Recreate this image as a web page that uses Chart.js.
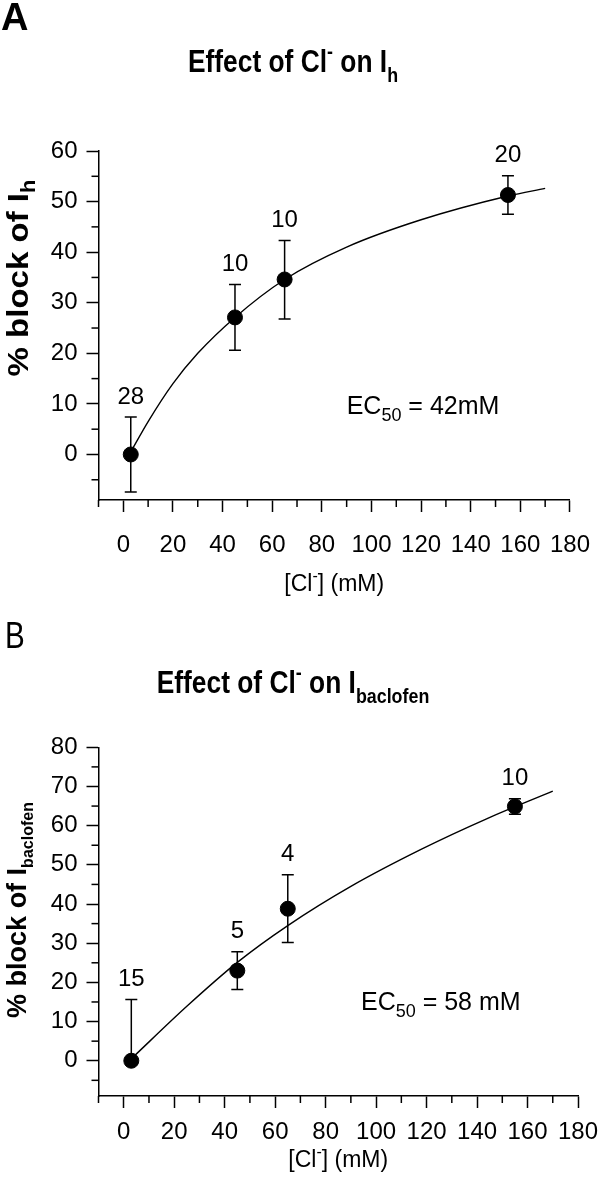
<!DOCTYPE html>
<html lang="en">
<head>
<meta charset="UTF-8">
<title>Effect of Cl- on Ih and Ibaclofen</title>
<style>
  body { margin: 0; background: #fff; }
  canvas { display: block; }
</style>
</head>
<body>
<canvas id="chartA" width="609" height="600"></canvas>
<canvas id="chartB" width="609" height="599"></canvas>
<script src="https://cdn.jsdelivr.net/npm/chart.js"></script>
<script>
  // shared x axis
  const xTicks = [0, 20, 40, 60, 80, 100, 120, 140, 160, 180];
  const xMinor = [-10, 10, 30, 50, 70, 90, 110, 130, 150, 170];

  // panel A: block of Ih
  const concA = [3, 45, 65, 155];
  const blockA = [0, 27.1, 34.6, 51.3];
  const errUpA = [7.4, 6.5, 7.7, 3.8];
  const errLoA = [7.4, 6.5, 7.8, 3.8];
  const nA = [28, 10, 10, 20];
  const fitXA = [3, 10, 20, 30, 45, 65, 90, 120, 155, 170];
  const fitYA = [0.5, 6.5, 14.0, 20.0, 27.1, 34.6, 41.0, 46.4, 51.1, 52.6];
  const yTicksA = [0, 10, 20, 30, 40, 50, 60];
  const yMinorA = [-5, 5, 15, 25, 35, 45, 55];

  // panel B: block of Ibaclofen
  const concB = [3, 45, 65, 155];
  const blockB = [0, 23.0, 38.8, 64.9];
  const errUpB = [15.6, 4.8, 8.7, 2.0];
  const errLoB = [0, 4.8, 8.6, 2.0];
  const nB = [15, 5, 4, 10];
  const fitXB = [3, 25, 45, 65, 90, 118, 144, 170];
  const fitYB = [0.5, 13.9, 25.1, 34.5, 44.5, 54.0, 61.8, 68.8];
  const yTicksB = [0, 10, 20, 30, 40, 50, 60, 70, 80];
  const yMinorB = [-5, 5, 15, 25, 35, 45, 55, 65, 75];

  const FONT = '"Liberation Sans", Arial, Helvetica, sans-serif';

  // draws text made of plain / sub / sup pieces
  function richText(ctx, parts, x, y, o) {
    ctx.save();
    ctx.translate(x, y);
    if (o.rotate) ctx.rotate(o.rotate);
    ctx.scale(o.scaleX || 1, 1);
    const fontOf = p => (o.bold ? 'bold ' : '') + ((p.sub || p.sup) ? o.subSize : o.size) + 'px ' + FONT;
    let total = 0;
    parts.forEach(p => { ctx.font = fontOf(p); total += ctx.measureText(p.t).width; });
    let cx = o.align === 'center' ? -total / 2 : 0;
    ctx.fillStyle = '#000';
    ctx.textAlign = 'left';
    ctx.textBaseline = 'alphabetic';
    parts.forEach(p => {
      ctx.font = fontOf(p);
      const dy = p.sub ? o.subShift : (p.sup ? -o.supShift : 0);
      ctx.fillText(p.t, cx, dy);
      cx += ctx.measureText(p.t).width;
    });
    ctx.restore();
  }

  const decor = {
    id: 'decor',
    beforeDatasetsDraw(chart, args, opts) {
      const ctx = chart.ctx, xs = chart.scales.x, ys = chart.scales.y;
      const area = chart.chartArea;
      ctx.save();
      ctx.strokeStyle = '#000';
      ctx.lineWidth = 1.5;
      // minor ticks
      opts.xMinor.forEach(v => {
        const px = xs.getPixelForValue(v);
        ctx.beginPath(); ctx.moveTo(px, area.bottom); ctx.lineTo(px, area.bottom + 7); ctx.stroke();
      });
      opts.yMinor.forEach(v => {
        const py = ys.getPixelForValue(v);
        ctx.beginPath(); ctx.moveTo(area.left, py); ctx.lineTo(area.left - 7, py); ctx.stroke();
      });
      // error bars
      opts.xs.forEach((xv, i) => {
        const px = xs.getPixelForValue(xv);
        const top = ys.getPixelForValue(opts.ys[i] + opts.up[i]);
        const bot = ys.getPixelForValue(opts.ys[i] - opts.lo[i]);
        ctx.beginPath();
        ctx.moveTo(px, top); ctx.lineTo(px, bot);
        ctx.moveTo(px - 6, top); ctx.lineTo(px + 6, top);
        if (opts.lo[i] > 0) { ctx.moveTo(px - 6, bot); ctx.lineTo(px + 6, bot); }
        ctx.stroke();
        // n above bar
        ctx.fillStyle = '#000';
        ctx.font = '24px ' + FONT;
        ctx.textAlign = 'center';
        ctx.textBaseline = 'middle';
        ctx.fillText(String(opts.n[i]), px, top - 20);
      });
      ctx.restore();
    },
    afterDraw(chart, args, opts) {
      const ctx = chart.ctx, xs = chart.scales.x, ys = chart.scales.y;
      const area = chart.chartArea;
      // panel letter
      richText(ctx, [{ t: opts.letter.t }], opts.letter.x, opts.letter.y,
        { size: opts.letter.size, bold: opts.letter.bold, scaleX: opts.letter.scaleX });
      // title
      richText(ctx, opts.title, 293, opts.titleY,
        { size: 31, subSize: 21, bold: true, align: 'center', scaleX: 0.85, subShift: 10, supShift: 14 });
      // y title
      richText(ctx, opts.yTitle, opts.yTitleX, opts.yTitleY,
        { size: opts.yTitleSize, subSize: opts.yTitleSub, bold: true, align: 'center',
          rotate: -Math.PI / 2, scaleX: opts.yTitleScale, subShift: 7 });
      // x title
      richText(ctx, [{ t: '[Cl' }, { t: '-', sup: true }, { t: '] (mM)' }], (area.left + area.right) / 2, opts.xTitleY,
        { size: 23, subSize: 16, align: 'center', supShift: 10 });
      // EC50 note
      richText(ctx, opts.ec.parts, xs.getPixelForValue(opts.ec.x), ys.getPixelForValue(opts.ec.y),
        { size: 25, subSize: 18, subShift: 7 });
    }
  };

  function makeChart(id, cfg) {
    return new Chart(document.getElementById(id), {
      data: {
        datasets: [
          {
            type: 'scatter',
            data: cfg.xs.map((x, i) => ({ x: x, y: cfg.ys[i] })),
            backgroundColor: '#000',
            borderColor: '#000',
            pointRadius: 7.5,
            order: 1
          },
          {
            type: 'line',
            data: cfg.fitX.map((x, i) => ({ x: x, y: cfg.fitY[i] })),
            borderColor: '#000',
            borderWidth: 1.4,
            pointRadius: 0,
            fill: false,
            cubicInterpolationMode: 'monotone',
            order: 2
          }
        ]
      },
      options: {
        responsive: false,
        animation: false,
        layout: { padding: { top: cfg.top, right: 31, left: 0, bottom: 0 } },
        plugins: {
          legend: { display: false },
          tooltip: { enabled: false },
          decor: cfg.decor
        },
        scales: {
          x: {
            type: 'linear',
            min: -10,
            max: 180,
            afterBuildTicks: s => { s.ticks = xTicks.map(v => ({ value: v })); },
            afterFit: s => { s.height = cfg.xHeight; },
            border: { color: '#000', width: 1.5 },
            grid: { drawOnChartArea: false, tickLength: 12, tickColor: '#000', tickWidth: 1.5 },
            ticks: { color: '#000', padding: cfg.xPad, maxRotation: 0, font: { family: FONT, size: 24 } }
          },
          y: {
            type: 'linear',
            min: -9,
            max: cfg.yMax,
            afterBuildTicks: s => { s.ticks = cfg.yTicks.map(v => ({ value: v })); },
            afterFit: s => { s.width = 98.5; },
            border: { color: '#000', width: 1.5 },
            grid: { drawOnChartArea: false, tickLength: 12, tickColor: '#000', tickWidth: 1.5 },
            ticks: { color: '#000', padding: 9, font: { family: FONT, size: 24 } }
          }
        }
      },
      plugins: [decor]
    });
  }

  makeChart('chartA', {
    xs: concA, ys: blockA, fitX: fitXA, fitY: fitYA, yTicks: yTicksA, yMax: 60,
    top: 151, xHeight: 100, xPad: 19,
    decor: {
      xMinor: xMinor, yMinor: yMinorA, xs: concA, ys: blockA, up: errUpA, lo: errLoA, n: nA,
      letter: { t: 'A', x: 1, y: 30, size: 38, bold: true, scaleX: 1 },
      title: [{ t: 'Effect of Cl' }, { t: '-', sup: true }, { t: ' on I' }, { t: 'h', sub: true }],
      titleY: 72,
      yTitle: [{ t: '% block of I' }, { t: 'h', sub: true }],
      yTitleX: 28, yTitleY: 278, yTitleSize: 30, yTitleSub: 20, yTitleScale: 1.1,
      xTitleY: 591,
      ec: { parts: [{ t: 'EC' }, { t: '50', sub: true }, { t: ' = 42mM' }], x: 90, y: 8.1 }
    }
  });

  makeChart('chartB', {
    xs: concB, ys: blockB, fitX: fitXB, fitY: fitYB, yTicks: yTicksB, yMax: 80,
    top: 147.3, xHeight: 103, xPad: 10,
    decor: {
      xMinor: xMinor, yMinor: yMinorB, xs: concB, ys: blockB, up: errUpB, lo: errLoB, n: nB,
      letter: { t: 'B', x: 5, y: 48, size: 37, bold: false, scaleX: 0.8 },
      title: [{ t: 'Effect of Cl' }, { t: '-', sup: true }, { t: ' on I' }, { t: 'baclofen', sub: true }],
      titleY: 93,
      yTitle: [{ t: '% block of I' }, { t: 'baclofen', sub: true }],
      yTitleX: 26, yTitleY: 310, yTitleSize: 27, yTitleSub: 16, yTitleScale: 1,
      xTitleY: 567,
      ec: { parts: [{ t: 'EC' }, { t: '50', sub: true }, { t: ' = 58 mM' }], x: 94, y: 13 }
    }
  });
</script>
</body>
</html>
